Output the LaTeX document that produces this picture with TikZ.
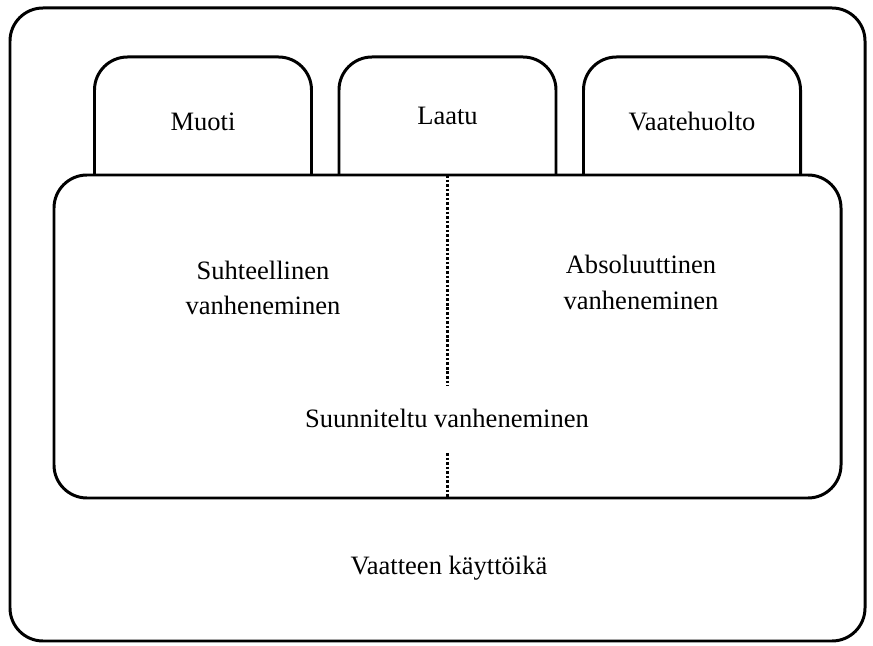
\documentclass[tikz,border=0pt]{standalone}
\usepackage{fontspec}
\setmainfont{Liberation Serif}
\usetikzlibrary{positioning, backgrounds}

\begin{document}
\begin{tikzpicture}[
    frame/.style={rectangle, draw, line width=1.7pt, rounded corners=0.66cm, inner sep=0pt, outer sep=0pt},
    tab/.style={frame, fill=white, minimum width=4.34cm, minimum height=3.36cm, text depth=0.78cm},
    txt/.style={align=center, inner sep=0pt},
    dotline/.style={line width=1.8pt, dash pattern=on 1.5pt off 1.1pt},
    font=\fontsize{15.1}{20.4}\selectfont
]
\useasboundingbox (0,0) rectangle (17.46,12.9);

\node[frame, minimum width=17.1cm, minimum height=12.66cm] (life) at (8.75,6.41) {};
\node[frame, fill=white, minimum width=15.74cm, minimum height=6.46cm] (planned) at (8.95,6.17) {};

% tabs sit behind the big box
\begin{scope}[on background layer]
\node[tab, text depth=1.02cm, above=-1cm of planned] (quality) {Laatu};
\node[tab, left=0.55cm of quality] (fashion) {Muoti};
\node[tab, right=0.55cm of quality] (care) {Vaatehuolto};
\end{scope}

\node[txt] (relative) at (5.26,7.14) {Suhteellinen\\vanheneminen};
\node[txt] (absolute) at (12.82,7.25) {Absoluuttinen\\vanheneminen};
\node[txt, anchor=base] (plannedlabel) at (8.94,4.34) {Suunniteltu vanheneminen};
\node[txt, anchor=base] (lifelabel) at (8.98,1.42) {Vaatteen käyttöikä};

\coordinate (gapTop) at (8.95,5.18);
\coordinate (gapBottom) at (8.95,3.84);
\draw[dotline] (planned.north) -- (gapTop);
\draw[dotline] (gapBottom) -- (planned.south);
\end{tikzpicture}
\end{document}
